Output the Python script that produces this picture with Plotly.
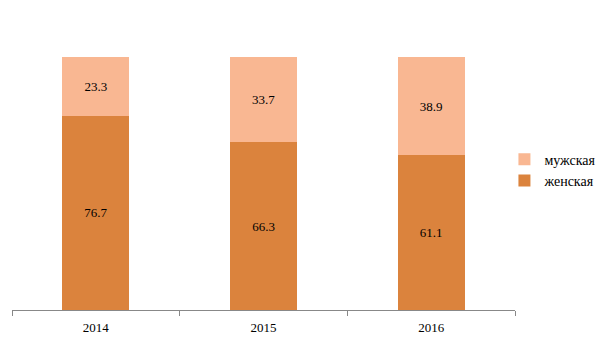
import plotly.graph_objects as go

years = ["2014", "2015", "2016"]
female = [76.7, 66.3, 61.1]
male = [23.3, 33.7, 38.9]

female_color = "#DB833D"
male_color = "#F9B792"
font_family = "Liberation Serif, Times New Roman, serif"

fig = go.Figure()
fig.add_trace(go.Bar(
    x=years, y=female, name="женская",
    marker=dict(color=female_color, line=dict(width=0)),
    text=[f"{v:.1f}" for v in female], textposition="inside",
    insidetextanchor="middle", textfont=dict(color="black", size=13, family=font_family),
    width=0.4,
))
fig.add_trace(go.Bar(
    x=years, y=male, name="мужская",
    marker=dict(color=male_color, line=dict(width=0)),
    text=[f"{v:.1f}" for v in male], textposition="inside",
    insidetextanchor="middle", textfont=dict(color="black", size=13, family=font_family),
    width=0.4,
))

fig.update_layout(
    width=605, height=340,
    barmode="stack",
    margin=dict(l=12, r=90, t=57, b=30, autoexpand=False),
    paper_bgcolor="white", plot_bgcolor="white",
    font=dict(family=font_family, size=13, color="black"),
    uniformtext=dict(mode="show", minsize=13),
    legend=dict(
        x=0.979, y=0.553, xanchor="left", yanchor="middle",
        traceorder="reversed", font=dict(size=14),
        itemwidth=30, tracegroupgap=0,
    ),
    showlegend=True,
)
fig.update_xaxes(
    type="category", tickson="boundaries", ticks="outside", ticklen=5,
    tickcolor="#888888", showline=True, linecolor="#888888", linewidth=1,
    showgrid=False, tickfont=dict(size=13), ticklabelstandoff=5,
)
fig.update_yaxes(range=[0, 100], visible=False, showgrid=False)

fig.write_html("out.html")
